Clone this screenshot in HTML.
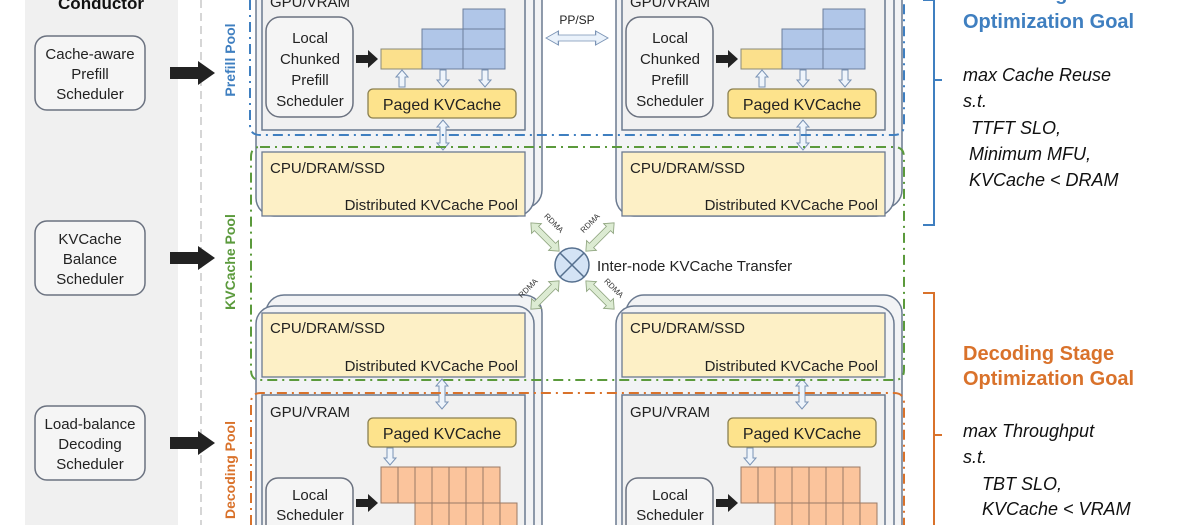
<!DOCTYPE html>
<html><head><meta charset="utf-8"><style>
html,body{margin:0;padding:0;background:#fff;width:1200px;height:525px;overflow:hidden}
svg{display:block;font-family:"Liberation Sans",sans-serif}
</style></head><body>
<svg width="1200" height="525" viewBox="0 0 1200 525" xmlns="http://www.w3.org/2000/svg">
<defs>
<polygon id="da" points="-20,0 -12,-7 -12,-3 12,-3 12,-7 20,0 12,7 12,3 -12,3 -12,7"/>
<polygon id="va" points="0,-15 -6,-8 -3,-8 -3,8 -6,8 0,15 6,8 3,8 3,-8 6,-8"/>
<polygon id="dn" points="-3,0 3,0 3,10 6,10 0,17 -6,10 -3,10"/>
<polygon id="up" points="-3,17 3,17 3,7 6,7 0,0 -6,7 -3,7"/>
<polygon id="bk" points="0,-4 12,-4 12,-9 22,0 12,9 12,4 0,4"/>
</defs>
<!-- conductor panel -->
<rect x="25" y="-5" width="153" height="540" fill="#f0f0f0"/>
<text x="101" y="9" font-size="17" font-weight="bold" text-anchor="middle" fill="#111">Conductor</text>
<line x1="201" y1="0" x2="201" y2="525" stroke="#bbb" stroke-width="1.2" stroke-dasharray="8,5"/>
<g fill="#f5f5f5" stroke="#6b7280" stroke-width="1.5">
<rect x="35" y="36" width="110" height="74" rx="12"/>
<rect x="35" y="221" width="110" height="74" rx="12"/>
<rect x="35" y="406" width="110" height="74" rx="12"/>
</g>
<g font-size="15" text-anchor="middle" fill="#222">
<text x="90" y="59">Cache-aware</text><text x="90" y="79">Prefill</text><text x="90" y="99">Scheduler</text>
<text x="90" y="244">KVCache</text><text x="90" y="264">Balance</text><text x="90" y="284">Scheduler</text>
<text x="90" y="429">Load-balance</text><text x="90" y="449">Decoding</text><text x="90" y="469">Scheduler</text>
</g>
<g fill="#222">
<polygon points="170,67 198,67 198,61 215,73 198,85 198,79 170,79"/>
<polygon points="170,252 198,252 198,246 215,258 198,270 198,264 170,264"/>
<polygon points="170,437 198,437 198,431 215,443 198,455 198,449 170,449"/>
</g>
<!-- nodes -->
<g id="pn">
<rect x="266" y="-30" width="276" height="238" rx="18" fill="#f2f3f5" stroke="#6b7a90" stroke-width="1.5"/>
<rect x="256" y="-22" width="278" height="238" rx="18" fill="#f2f3f5" stroke="#6b7a90" stroke-width="1.5"/>
<rect x="262" y="-8" width="263" height="138" fill="#f1f1f1" stroke="#6b7a90" stroke-width="1.5"/>
<text x="270" y="7" font-size="15" fill="#222">GPU/VRAM</text>
<rect x="266" y="17" width="87" height="100" rx="14" fill="#f5f5f5" stroke="#6b7280" stroke-width="1.5"/>
<g font-size="15" text-anchor="middle" fill="#222"><text x="310" y="43">Local</text><text x="310" y="64">Chunked</text><text x="310" y="85">Prefill</text><text x="310" y="106">Scheduler</text></g>
<use href="#bk" x="356" y="59" fill="#222"/>
<rect x="381" y="49" width="41" height="20" fill="#fbe08c" stroke="#8a8a7a" stroke-width="1"/>
<g fill="#b0c6e8" stroke="#6d7f9c" stroke-width="1">
<rect x="422" y="29" width="41" height="20"/><rect x="422" y="49" width="41" height="20"/>
<rect x="463" y="9" width="42" height="20"/><rect x="463" y="29" width="42" height="20"/><rect x="463" y="49" width="42" height="20"/>
</g>
<g fill="#eef4fb" stroke="#7a93b5" stroke-width="1">
<use href="#up" x="402" y="70"/><use href="#dn" x="443" y="70"/><use href="#dn" x="485" y="70"/>
<use href="#va" x="443" y="135"/>
</g>
<rect x="368" y="89" width="148" height="29" rx="5" fill="#fde38c" stroke="#8b8050" stroke-width="1.3"/>
<text x="442" y="110" font-size="16" text-anchor="middle" fill="#222">Paged KVCache</text>
<rect x="262" y="152" width="263" height="64" fill="#fdf0c6" stroke="#6b7a90" stroke-width="1.3"/>
<text x="270" y="173" font-size="15" fill="#222">CPU/DRAM/SSD</text>
<text x="518" y="210" font-size="15" text-anchor="end" fill="#222">Distributed KVCache Pool</text>
</g>
<use href="#pn" x="360"/>
<g id="dnode">
<rect x="266" y="295" width="276" height="260" rx="18" fill="#f2f3f5" stroke="#6b7a90" stroke-width="1.5"/>
<rect x="256" y="306" width="278" height="260" rx="18" fill="#f2f3f5" stroke="#6b7a90" stroke-width="1.5"/>
<rect x="262" y="313" width="263" height="64" fill="#fdf0c6" stroke="#6b7a90" stroke-width="1.3"/>
<text x="270" y="333" font-size="15" fill="#222">CPU/DRAM/SSD</text>
<text x="518" y="371" font-size="15" text-anchor="end" fill="#222">Distributed KVCache Pool</text>
<rect x="262" y="395" width="263" height="140" fill="#f1f1f1" stroke="#6b7a90" stroke-width="1.5"/>
<text x="270" y="417" font-size="15" fill="#222">GPU/VRAM</text>
<g fill="#eef4fb" stroke="#7a93b5" stroke-width="1"><use href="#va" x="442" y="394"/><use href="#dn" x="390" y="448"/></g>
<rect x="368" y="418" width="148" height="29" rx="5" fill="#fde38c" stroke="#8b8050" stroke-width="1.3"/>
<text x="442" y="439" font-size="16" text-anchor="middle" fill="#222">Paged KVCache</text>
<g fill="#fbc49c" stroke="#9a7a66" stroke-width="1">
<rect x="381" y="467" width="17" height="36"/><rect x="398" y="467" width="17" height="36"/><rect x="415" y="467" width="17" height="36"/><rect x="432" y="467" width="17" height="36"/><rect x="449" y="467" width="17" height="36"/><rect x="466" y="467" width="17" height="36"/><rect x="483" y="467" width="17" height="36"/>
<rect x="415" y="503" width="17" height="30"/><rect x="432" y="503" width="17" height="30"/><rect x="449" y="503" width="17" height="30"/><rect x="466" y="503" width="17" height="30"/><rect x="483" y="503" width="17" height="30"/><rect x="500" y="503" width="17" height="30"/>
</g>
<rect x="266" y="478" width="87" height="60" rx="12" fill="#f5f5f5" stroke="#6b7280" stroke-width="1.5"/>
<g font-size="15" text-anchor="middle" fill="#222"><text x="310" y="500">Local</text><text x="310" y="520">Scheduler</text></g>
<use href="#bk" x="356" y="503" fill="#222"/>
</g>
<use href="#dnode" x="360"/>
<!-- pool borders -->
<g fill="none" stroke-width="2" stroke-dasharray="10,5,2,5">
<path d="M250,0 V125 Q250,135 260,135 H894 Q904,135 904,125 V0" stroke="#3f7fc0"/>
<path d="M260,147 H894 Q904,147 904,157 V370 Q904,380 894,380 H260 Q251,380 251,370 V157 Q251,147 260,147" stroke="#5b9a3c"/>
<path d="M251,525 V403 Q251,393 261,393 H894 Q904,393 904,403 V525" stroke="#d9722b"/>
</g>
<g font-size="14" font-weight="bold" text-anchor="middle">
<text transform="translate(235,60) rotate(-90)" fill="#3f7fc0">Prefill Pool</text>
<text transform="translate(235,262) rotate(-90)" fill="#5b9a3c">KVCache Pool</text>
<text transform="translate(235,470) rotate(-90)" fill="#d9722b">Decoding Pool</text>
</g>
<!-- PP/SP -->
<text x="577" y="24" font-size="12" text-anchor="middle" fill="#222">PP/SP</text>
<use href="#da" transform="translate(577,38) scale(1.55,1)" fill="#eaf2fb" stroke="#7a93b5" stroke-width="0.8"/>
<!-- RDMA -->
<g fill="#dcebd2" stroke="#8aa07a" stroke-width="0.8">
<use href="#da" transform="translate(545,237) rotate(45)"/>
<use href="#da" transform="translate(600,237) rotate(-45)"/>
<use href="#da" transform="translate(545,295) rotate(-45)"/>
<use href="#da" transform="translate(600,295) rotate(45)"/>
</g>
<g font-size="8" fill="#333" text-anchor="middle">
<text transform="translate(552,225) rotate(45)">RDMA</text>
<text transform="translate(592,225) rotate(-45)">RDMA</text>
<text transform="translate(530,290) rotate(-45)">RDMA</text>
<text transform="translate(612,290) rotate(45)">RDMA</text>
</g>
<circle cx="572" cy="265" r="17" fill="#d4e3f5" stroke="#56708f" stroke-width="1.5"/>
<line x1="560" y1="253" x2="584" y2="277" stroke="#56708f" stroke-width="1.5"/>
<line x1="584" y1="253" x2="560" y2="277" stroke="#56708f" stroke-width="1.5"/>
<text x="597" y="271" font-size="15" fill="#222">Inter-node KVCache Transfer</text>
<!-- right goals -->
<path d="M923,0 H934 V80 H942 M934,80 V225 H923" fill="none" stroke="#3f7fc0" stroke-width="2"/>
<path d="M923,293 H934 V435 H942 M934,435 V525" fill="none" stroke="#d9722b" stroke-width="2"/>
<g font-size="20" font-weight="bold" fill="#3f7fc0"><text x="963" y="0">Prefill Stage</text><text x="963" y="28">Optimization Goal</text></g>
<g font-size="20" font-weight="bold" fill="#d9722b"><text x="963" y="360">Decoding Stage</text><text x="963" y="385">Optimization Goal</text></g>
<g font-size="18" font-style="italic" fill="#111">
<text x="963" y="81">max Cache Reuse</text><text x="963" y="107">s.t.</text>
<text x="971" y="134">TTFT SLO,</text><text x="969" y="160">Minimum MFU,</text><text x="969" y="186">KVCache &lt; DRAM</text>
<text x="963" y="437">max Throughput</text><text x="963" y="463">s.t.</text>
<text x="982" y="490">TBT SLO,</text><text x="982" y="515">KVCache &lt; VRAM</text>
</g>
</svg>
</body></html>
